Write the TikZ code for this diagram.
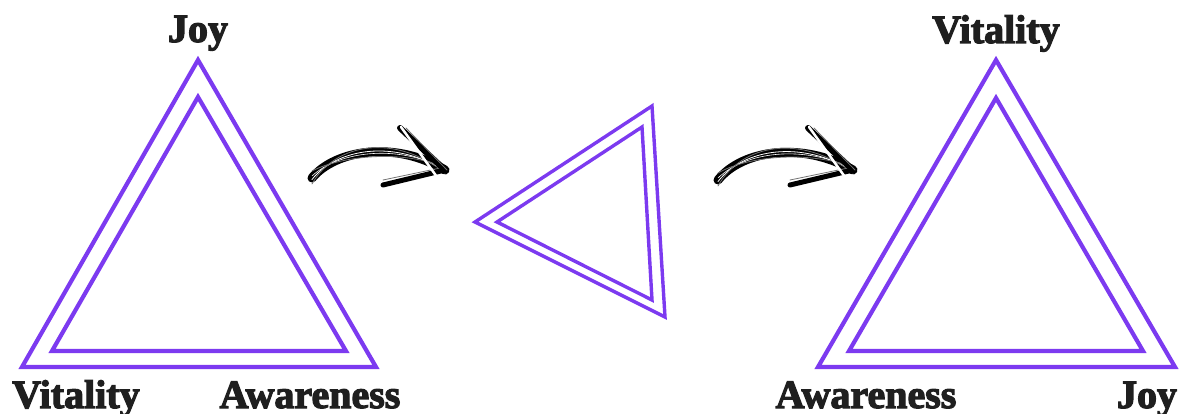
\documentclass[tikz,border=0pt]{standalone}
\usepackage{fontspec}
\newfontfamily\labfont{Liberation Serif}[BoldFeatures={FakeBold=3}]
\definecolor{tripurple}{RGB}{124,58,240}
\begin{document}
\begin{tikzpicture}[x=1pt,y=-1pt,
  tri/.style={draw=tripurple,line width=4.2pt,line join=miter},
  lab/.style={font=\labfont\bfseries\fontsize{40}{40}\selectfont,text=black!88,inner sep=0pt},
  brush/.style={draw=black,line cap=round},
  brushwhite/.style={draw=white,line cap=round},
  brushlight/.style={draw=black!55,line cap=round}]
\useasboundingbox (0,0) rectangle (1180,414);
% left triangle
\coordinate (LA) at (198,60);
\coordinate (LB) at (22,367);
\coordinate (LC) at (376,367);
\draw[tri] (LA) -- (LB) -- (LC) -- cycle;
\draw[tri] (198,97) -- (52,351) -- (346,351) -- cycle;
% middle triangle
\coordinate (MA) at (652,106);
\coordinate (MB) at (475,222);
\coordinate (MC) at (665,317);
\draw[tri,line width=3.4pt] (MA) -- (MB) -- (MC) -- cycle;
\draw[tri,line width=3.4pt] (642,127) -- (497,222) -- (652,300) -- cycle;
% right triangle
\coordinate (RA) at (996,60);
\coordinate (RB) at (818,367);
\coordinate (RC) at (1175,367);
\draw[tri] (RA) -- (RB) -- (RC) -- cycle;
\draw[tri] (996,98) -- (849,351) -- (1143,351) -- cycle;
% labels
\node[lab,anchor=base] (ljoy) at (198,42) {Joy};
\node[lab,anchor=base] (lvit) at (76,408) {Vitality};
\node[lab,anchor=base] (lawa) at (310,408) {Awareness};
\node[lab,anchor=base] (rvit) at (996,43) {Vitality};
\node[lab,anchor=base] (rawa) at (866,408) {Awareness};
\node[lab,anchor=base] (rjoy) at (1147,408) {Joy};
% arrow 1
\coordinate (a1s) at (312,178);
\coordinate (a1t) at (445,170);
\coordinate (a1u) at (400,128);
\coordinate (a1l) at (383,185);
\draw[brush,line width=9pt] (a1s) .. controls (335,150) and (395,140) .. (a1t);
\draw[brushwhite,line width=0.8pt] ([yshift=-1.5pt]a1s) .. controls (337,148) and (395,139) .. ([yshift=-1pt]a1t);
\draw[brushwhite,line width=0.6pt] ([yshift=2pt]a1s) .. controls (338,152) and (396,143) .. ([yshift=1pt]a1t);
\draw[brushlight,line width=0.8pt] ([yshift=-6pt]a1s) .. controls (335,143) and (395,133) .. ([yshift=-3pt]a1t);
\draw[brushlight,line width=0.8pt] ([yshift=7pt]a1s) .. controls (337,158) and (395,148) .. ([yshift=3pt]a1t);
\draw[brush,line width=5pt] (a1l) -- (a1t);
\draw[brushlight,line width=0.8pt] ([yshift=5pt]a1l) -- ([yshift=3pt]a1t);
\draw[brush,line width=6pt] (a1u) -- (a1t);
\draw[brushwhite,line width=2.5pt] ([shift={(1pt,1pt)}]a1u) -- ([shift={(-8pt,-7pt)}]a1t);
\draw[brushlight,line width=0.8pt] ([xshift=6pt]a1u) -- ([xshift=2pt]a1t);
% arrow 2
\coordinate (a2s) at (718,180);
\coordinate (a2t) at (853,170);
\coordinate (a2u) at (808,128);
\coordinate (a2l) at (790,185);
\draw[brush,line width=9pt] (a2s) .. controls (742,150) and (802,141) .. (a2t);
\draw[brushwhite,line width=0.8pt] ([yshift=-1.5pt]a2s) .. controls (744,148) and (802,140) .. ([yshift=-1pt]a2t);
\draw[brushwhite,line width=0.6pt] ([yshift=2pt]a2s) .. controls (745,152) and (803,144) .. ([yshift=1pt]a2t);
\draw[brushlight,line width=0.8pt] ([yshift=-6pt]a2s) .. controls (742,143) and (802,134) .. ([yshift=-3pt]a2t);
\draw[brushlight,line width=0.8pt] ([yshift=7pt]a2s) .. controls (744,158) and (802,149) .. ([yshift=3pt]a2t);
\draw[brush,line width=5pt] (a2l) -- (a2t);
\draw[brushlight,line width=0.8pt] ([yshift=5pt]a2l) -- ([yshift=3pt]a2t);
\draw[brush,line width=6pt] (a2u) -- (a2t);
\draw[brushwhite,line width=2.5pt] ([shift={(1pt,1pt)}]a2u) -- ([shift={(-8pt,-7pt)}]a2t);
\draw[brushlight,line width=0.8pt] ([xshift=6pt]a2u) -- ([xshift=2pt]a2t);
\end{tikzpicture}
\end{document}
